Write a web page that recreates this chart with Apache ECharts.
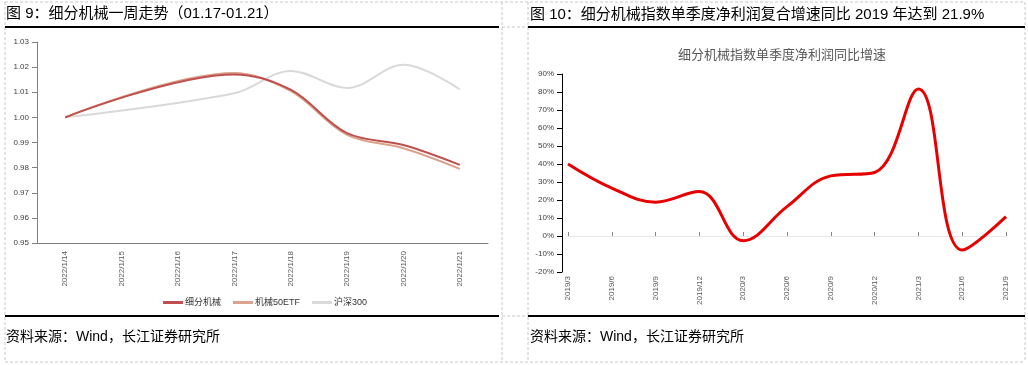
<!DOCTYPE html>
<html><head><meta charset="utf-8">
<script src="https://cdn.jsdelivr.net/npm/echarts@6/dist/echarts.min.js"></script>
<style>html,body{margin:0;padding:0;background:#fff}#c{width:1028px;height:365px}</style>
</head><body><div id="c"></div>
<script>
// ---- data ----
const weekDates = ['2022/1/14','2022/1/15','2022/1/16','2022/1/17','2022/1/18','2022/1/19','2022/1/20','2022/1/21'];
const seriesNames = ['细分机械','机械50ETF','沪深300'];
const jixie = [1.000, null, null, 1.0171, 1.0110, 0.9937, 0.9890, 0.9811];
const etf50 = [1.000, null, null, 1.0177, 1.0105, 0.9930, 0.9877, 0.9795];
const hs300 = [1.000, null, null, 1.0096, 1.0185, 1.0117, 1.0209, 1.0112];
const quarters = ['2019/3','2019/6','2019/9','2019/12','2020/3','2020/6','2020/9','2020/12','2021/3','2021/6','2021/9'];
const growth = [40.0, 26.6, 18.8, 24.7, -2.6, 16.3, 33.4, 35.3, 81.7, -7.8, 10.8];
const leftTitle = '图 9：细分机械一周走势（01.17-01.21）';
const rightTitle = '图 10：细分机械指数单季度净利润复合增速同比 2019 年达到 21.9%';
const rightChartTitle = '细分机械指数单季度净利润同比增速';
const sourceText = '资料来源：Wind，长江证券研究所';

const colors = ['#C0504D','#D9A38E','#D9D9D9'];
const cjk = '"Liberation Sans","Noto Sans CJK SC",sans-serif';
const chart = echarts.init(document.getElementById('c'), null, {renderer:'canvas'});

function dashed(x1,y1,x2,y2){return {type:'line',shape:{x1,y1,x2,y2},style:{stroke:'#c8c8c8',lineWidth:1,lineDash:[3,2]},silent:true,z:0};}
function solid(x1,y1,x2,y2){return {type:'line',shape:{x1,y1,x2,y2},style:{stroke:'#000',lineWidth:2},silent:true};}
function txt(x,y,t,size,color){return {type:'text',x,y,style:{text:t,font:size+'px '+cjk,fill:color||'#000',textVerticalAlign:'middle'},silent:true};}

const lineSeries = [jixie, etf50, hs300].map((d,i)=>({
  name: seriesNames[i], type:'line', xAxisIndex:0, yAxisIndex:0, data:d,
  smooth:0.35, connectNulls:true, showSymbol:false, symbol:'none',
  lineStyle:{color:colors[i], width:2}, itemStyle:{color:colors[i]}, z: 3-i
}));

chart.setOption({
  animation:false,
  backgroundColor:'#fff',
  grid:[
    {left:37, top:42, width:451, height:201},
    {left:568, top:74, width:438, height:198}
  ],
  title:[{text:rightChartTitle, left:777, top:44, textAlign:'center',
    textStyle:{fontSize:13, fontWeight:'normal', color:'#595959', fontFamily:cjk}}],
  legend:{left:158, top:293, itemWidth:20, itemHeight:3, itemGap:12, icon:'rect',
    data:seriesNames, textStyle:{fontSize:9, color:'#333', fontFamily:cjk, padding:[0,0,0,-3]}},
  xAxis:[
    {gridIndex:0, type:'category', data:weekDates, boundaryGap:true,
      axisLine:{lineStyle:{color:'#808080'}}, axisTick:{lineStyle:{color:'#808080'}},
      axisLabel:{rotate:90, fontSize:8, color:'#595959', margin:8, fontFamily:cjk, interval:0}},
    {gridIndex:1, type:'category', data:quarters, boundaryGap:false,
      axisLine:{show:false, onZero:false}, axisTick:{show:false},
      axisLabel:{rotate:90, fontSize:8, color:'#595959', margin:4, fontFamily:cjk, interval:0}},
    {gridIndex:1, type:'category', data:quarters, boundaryGap:false,
      axisLine:{show:true, onZero:true, lineStyle:{color:'#e8e8e8'}},
      axisTick:{show:true, interval:0, length:4, inside:false, lineStyle:{color:'#888'}}, axisLabel:{show:false}}
  ],
  yAxis:[
    {gridIndex:0, type:'value', min:0.95, max:1.03, interval:0.01,
      axisLine:{show:true, lineStyle:{color:'#808080'}}, axisTick:{show:true, lineStyle:{color:'#808080'}},
      splitLine:{show:false},
      axisLabel:{fontSize:8, color:'#404040', fontFamily:cjk, formatter:v=>v.toFixed(2)}},
    {gridIndex:1, type:'value', min:-20, max:90, interval:10, offset:6,
      axisLine:{show:true, lineStyle:{color:'#000'}}, axisTick:{show:true, lineStyle:{color:'#000'}},
      splitLine:{show:false},
      axisLabel:{fontSize:8, color:'#404040', fontFamily:cjk, formatter:v=>v+'%'}}
  ],
  series: lineSeries.concat([{
    name:'增速', type:'line', xAxisIndex:1, yAxisIndex:1, data:growth, smooth:0.4,
    showSymbol:false, symbol:'none', lineStyle:{color:'#E60000', width:3}, itemStyle:{color:'#E60000'}
  }]),
  graphic:[
    dashed(5,2,1025,2), dashed(5,2,5,362), dashed(502,2,502,362), dashed(528,2,528,362),
    dashed(1025,2,1025,362), dashed(5,362,1025,362),
    dashed(502,27,528,27), dashed(502,316,528,316),
    solid(5,27,499,27), solid(528,27,1025,27),
    solid(5,316,499,316), solid(528,316,1025,316),
    txt(6,14,leftTitle,15), txt(530,15,rightTitle,15),
    txt(6,337,sourceText,14), txt(530,337,sourceText,14)
  ]
});
</script></body></html>
